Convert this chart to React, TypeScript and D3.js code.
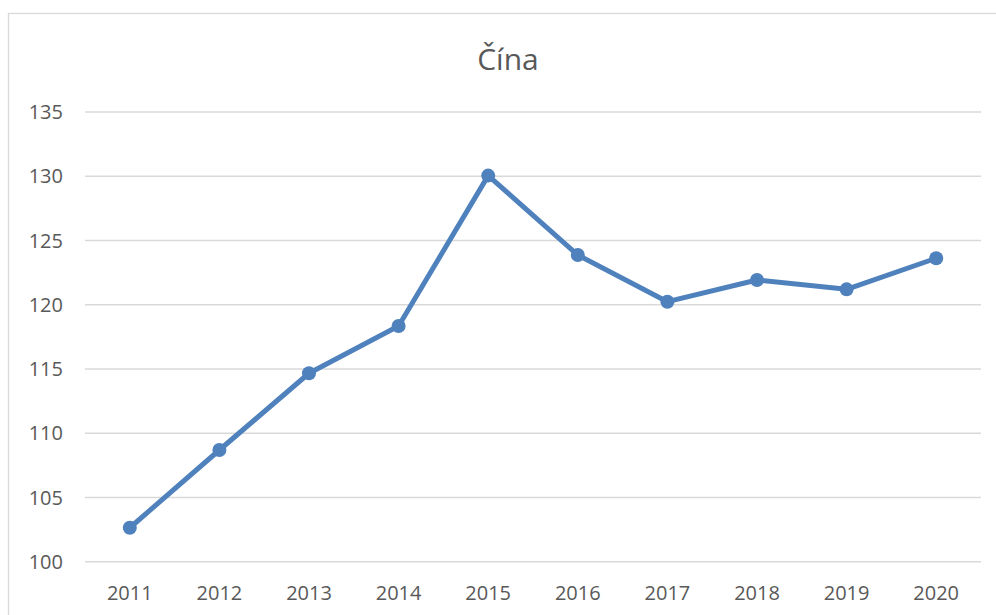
import React from "react";
import * as d3 from "d3";

const years = ["2011", "2012", "2013", "2014", "2015", "2016", "2017", "2018", "2019", "2020"];
const values = [102.65, 108.7, 114.67, 118.35, 130.05, 123.87, 120.24, 121.93, 121.2, 123.62];
const yTicks = [100, 105, 110, 115, 120, 125, 130, 135];
const title = "Čína";

export default function App() {
  const W = 996, H = 615;
  const x = d3.scaleBand<string>().domain(years).range([85, 981]);
  const y = d3.scaleLinear().domain([100, 135]).range([561.8, 112]);
  const line = d3.line<number>()
    .x((_, i) => (x(years[i]) as number) + x.bandwidth() / 2)
    .y((d) => y(d));
  const font = "'Open Sans', 'Noto Sans', sans-serif";
  return (
    <svg width={W} height={H} style={{ position: "fixed", left: 0, top: 0, background: "#fff" }}>
      <rect x={8.5} y={13.5} width={W + 10} height={H + 10} fill="#fff" stroke="#d9d9d9" strokeWidth={1.3} />
      <text x={508} y={70} textAnchor="middle" fontFamily={font} fontSize={30} fill="#595959">{title}</text>
      {yTicks.map((t) => (
        <g key={t}>
          <line x1={85} x2={981} y1={y(t)} y2={y(t)} stroke="#d9d9d9" strokeWidth={1.5} />
          <text x={63} y={y(t) + 7} textAnchor="end" fontFamily={font} fontSize={20} fill="#595959">{t}</text>
        </g>
      ))}
      {years.map((yr) => (
        <text key={yr} x={(x(yr) as number) + x.bandwidth() / 2} y={600} textAnchor="middle" fontFamily={font} fontSize={20} fill="#595959">{yr}</text>
      ))}
      <path d={line(values) || ""} fill="none" stroke="#4f81bd" strokeWidth={5} strokeLinejoin="round" strokeLinecap="round" />
      {values.map((v, i) => (
        <circle key={i} cx={(x(years[i]) as number) + x.bandwidth() / 2} cy={y(v)} r={7} fill="#4f81bd" />
      ))}
    </svg>
  );
}
